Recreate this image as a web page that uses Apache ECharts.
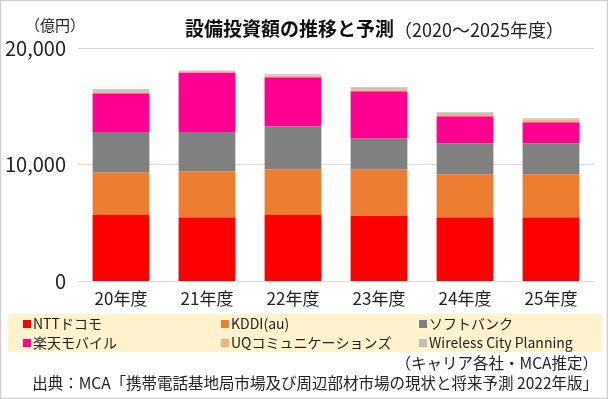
<!DOCTYPE html>
<html>
<head>
<meta charset="utf-8">
<script src="https://cdn.jsdelivr.net/npm/echarts@6/dist/echarts.min.js"></script>
<style>
  html, body { margin: 0; padding: 0; background: #fff; }
  #chart { width: 608px; height: 399px; }
</style>
</head>
<body>
<div id="chart"></div>
<script>
// 年度
const categories = ['20年度', '21年度', '22年度', '23年度', '24年度', '25年度'];
// 各社の設備投資額（億円）
const docomo   = [5660, 5480, 5660, 5570, 5480, 5480];
const kddi     = [3680, 3940, 3940, 4030, 3690, 3690];
const softbank = [3460, 3370, 3690, 2660, 2660, 2660];
const rakuten  = [3310, 5110, 4200, 4030, 2310, 1800];
const uq       = [140, 60, 140, 170, 200, 230];
const wcp      = [200, 110, 110, 170, 150, 110];
const yTicks = [0, 10000, 20000];

const font = '"Noto Sans CJK JP", "Noto Sans", sans-serif';

const seriesDefs = [
  { name: 'NTTドコモ', data: docomo, color: '#FF0000' },
  { name: 'KDDI(au)', data: kddi, color: '#ED7D31' },
  { name: 'ソフトバンク', data: softbank, color: '#808080' },
  { name: '楽天モバイル', data: rakuten, color: '#FF0090' },
  { name: 'UQコミュニケーションズ', data: uq, color: '#F4B183' },
  { name: 'Wireless City Planning', data: wcp, color: '#BFBFBF' }
];

function legendCol(left, names) {
  return {
    orient: 'vertical',
    left: left,
    top: 312,
    itemWidth: 8,
    itemHeight: 8,
    itemGap: 5,
    icon: 'rect',
    selectedMode: false,
    textStyle: { fontFamily: font, fontSize: 14, color: '#222', padding: [0, 0, 0, -3] },
    data: names
  };
}

const chart = echarts.init(document.getElementById('chart'));
chart.setOption({
  animation: false,
  backgroundColor: '#fff',
  textStyle: { fontFamily: font },
  title: {
    text: '{a|設備投資額の推移と予測}{b|（2020～2025年度）}',
    left: 180,
    top: 14,
    textStyle: {
      rich: {
        a: { fontFamily: font, fontSize: 19, fontWeight: 'bold', color: '#111' },
        b: { fontFamily: font, fontSize: 18, fontWeight: 'normal', color: '#222', padding: [2, 0, 0, 0] }
      }
    }
  },
  graphic: [
    { type: 'rect', shape: { x: 0.5, y: 0.5, width: 607, height: 398 }, style: { fill: 'none', stroke: '#d0d0d0', lineWidth: 1.5 }, z: 100 },
    { type: 'rect', shape: { x: 8, y: 314, width: 594, height: 38 }, style: { fill: '#FFF2CC' }, z: -1 },
    { type: 'text', left: 25, top: 18, style: { text: '（億円）', font: '15px ' + font, fill: '#222' } },
    { type: 'text', right: 10, top: 355, style: { text: '（キャリア各社・MCA推定）', font: '15.5px ' + font, fill: '#222' } },
    { type: 'text', right: 10, top: 375, style: { text: '出典：MCA「携帯電話基地局市場及び周辺部材市場の現状と将来予測 2022年版」', font: '15.5px ' + font, fill: '#222' } }
  ],
  legend: [
    legendCol(18, ['NTTドコモ', '楽天モバイル']),
    legendCol(216, ['KDDI(au)', 'UQコミュニケーションズ']),
    legendCol(414, ['ソフトバンク', 'Wireless City Planning'])
  ],
  grid: { left: 78, right: 14, top: 48, bottom: 118 },
  xAxis: {
    type: 'category',
    data: categories,
    axisLine: { lineStyle: { color: '#d9d9d9', width: 1 } },
    axisTick: { show: false },
    axisLabel: { fontFamily: font, fontSize: 17, color: '#222', margin: 9 }
  },
  yAxis: {
    type: 'value',
    min: yTicks[0],
    max: yTicks[yTicks.length - 1],
    interval: yTicks[1] - yTicks[0],
    axisLine: { show: false },
    axisTick: { show: false },
    splitLine: { lineStyle: { color: '#d9d9d9', width: 1 } },
    axisLabel: {
      fontFamily: font, fontSize: 20, color: '#222', margin: 12,
      formatter: v => v.toLocaleString('en-US')
    }
  },
  series: seriesDefs.map(s => ({
    name: s.name,
    type: 'bar',
    stack: 'total',
    barWidth: '66%',
    itemStyle: { color: s.color },
    data: s.data
  }))
});
</script>
</body>
</html>
